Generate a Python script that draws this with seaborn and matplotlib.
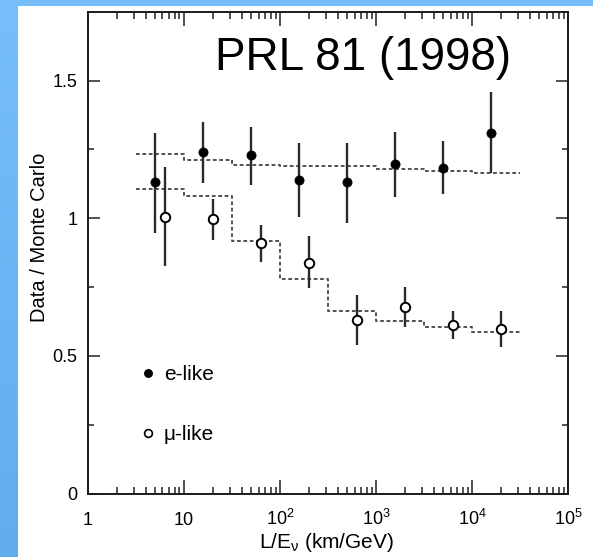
import numpy as np
import pandas as pd
import matplotlib
matplotlib.use("Agg")
import matplotlib.pyplot as plt
from matplotlib.patches import Rectangle
from matplotlib.lines import Line2D
from matplotlib.ticker import FixedLocator, LogLocator, NullFormatter
import seaborn as sns

# ---------------- data ----------------
e_x = [5.0, 15.8, 50.0, 158.0, 500.0, 1580.0, 5000.0, 15800.0]
e_y = [1.131, 1.239, 1.228, 1.139, 1.131, 1.198, 1.184, 1.311]
e_lo = [0.948, 1.127, 1.119, 1.003, 0.984, 1.079, 1.089, 1.166]
e_hi = [1.311, 1.348, 1.333, 1.275, 1.275, 1.315, 1.281, 1.457]

mu_x = [6.3, 20.0, 63.0, 200.0, 630.0, 2000.0, 6300.0, 20000.0]
mu_y = [1.004, 0.997, 0.910, 0.839, 0.631, 0.679, 0.613, 0.599]
mu_lo = [0.827, 0.922, 0.843, 0.746, 0.540, 0.607, 0.561, 0.532]
mu_hi = [1.186, 1.069, 0.976, 0.936, 0.722, 0.752, 0.665, 0.665]

mc_edges = [3.16, 10.0, 31.6, 100.0, 316.0, 1000.0, 3160.0, 10000.0, 31600.0]
mc_e = [1.233, 1.210, 1.195, 1.191, 1.188, 1.178, 1.172, 1.165]
mc_mu = [1.106, 1.080, 0.917, 0.780, 0.665, 0.628, 0.607, 0.588]

x_ticks = [1, 10, 100, 1000, 10000, 100000]
x_ticklabels = ["1", "10", "$10^{2}$", "$10^{3}$", "$10^{4}$", "$10^{5}$"]
y_ticks = [0, 0.5, 1, 1.5]
y_ticklabels = ["0", "0.5", "1", "1.5"]
y_minor = [0.25, 0.75, 1.25]
legend_labels = ["e-like", "\u03bc-like"]
title_text = "PRL 81 (1998)"
x_label = "L/E$_{\u03bd}$ (km/GeV)"
y_label = "Data / Monte Carlo"

# ---------------- style ----------------
sns.set_theme(style="ticks")
plt.rcParams["font.family"] = ["Liberation Sans", "DejaVu Sans"]
plt.rcParams["mathtext.fontset"] = "custom"
plt.rcParams["mathtext.rm"] = "Liberation Sans"
plt.rcParams["mathtext.it"] = "Liberation Sans:italic"
plt.rcParams["mathtext.default"] = "regular"
for k in ("text.color", "axes.labelcolor", "xtick.color", "ytick.color"):
    plt.rcParams[k] = "black"

W, H = 593, 557
fig = plt.figure(figsize=(W / 100, H / 100), dpi=100)
fig.patch.set_facecolor("#76BEFA")

# left blue band with soft vertical gradient
bg = fig.add_axes([0, 0, 17.7 / W, 1], zorder=-5)
grad = np.linspace(0, 1, 256)[:, None]
c_top = np.array([118, 191, 251]) / 255
c_bot = np.array([98, 172, 238]) / 255
img = c_top[None, None, :] * (1 - grad[..., None]) + c_bot[None, None, :] * grad[..., None]
bg.imshow(img, aspect="auto", extent=[0, 1, 0, 1])
bg.set_axis_off()

# white panel (behind the axes)
fig.patches.append(Rectangle((17.7 / W, 0), 1 - 17.7 / W, 1 - 6 / H,
                             transform=fig.transFigure, facecolor="white",
                             edgecolor="none", zorder=-10))

left, right, top, bottom = 87.7, 568.3, 11.7, 493.7
ax = fig.add_axes([left / W, 1 - bottom / H, (right - left) / W, (bottom - top) / H])
ax.set_facecolor("white")
ax.set_xscale("log")

# MC expectation histograms (dotted steps)
df_e = pd.DataFrame({"x": mc_edges, "y": mc_e + [mc_e[-1]]})
df_mu = pd.DataFrame({"x": mc_edges, "y": mc_mu + [mc_mu[-1]]})
for df in (df_e, df_mu):
    sns.lineplot(data=df, x="x", y="y", ax=ax, drawstyle="steps-post",
                 color="#4a4a4a", linewidth=1.35, linestyle=(0, (2.0, 1.4)),
                 estimator=None, sort=False, zorder=2)

# error bars
ax.vlines(e_x, e_lo, e_hi, color="#2a2a2a", linewidth=1.7, zorder=3)
ax.vlines(mu_x, mu_lo, mu_hi, color="#2a2a2a", linewidth=1.7, zorder=3)

# data points
sns.scatterplot(x=e_x, y=e_y, ax=ax, marker="o", s=44, color="black",
                edgecolor="black", linewidth=0.5, zorder=4)
sns.scatterplot(x=mu_x, y=mu_y, ax=ax, marker="o", s=46, facecolor="white",
                edgecolor="black", linewidth=1.4, zorder=4)

ax.set_xlim(1, 1e5)
ax.set_ylim(0, 1.75)

# ticks
ax.set_xticks(x_ticks, x_ticklabels)
ax.xaxis.set_minor_locator(LogLocator(base=10, subs=np.arange(2, 10), numticks=20))
ax.xaxis.set_minor_formatter(NullFormatter())
ax.set_yticks(y_ticks, y_ticklabels)
ax.yaxis.set_minor_locator(FixedLocator(y_minor))

ax.tick_params(axis="both", which="both", direction="in", top=True, right=True,
               color="#222222", width=1.1)
ax.tick_params(axis="x", which="major", length=10, pad=22.5, labelsize=13)
ax.tick_params(axis="x", which="minor", length=4.8)
ax.tick_params(axis="y", which="major", length=8.5, pad=7.5, labelsize=13)
ax.tick_params(axis="y", which="minor", length=4.6)
for lbl in ax.get_xticklabels():
    lbl.set_verticalalignment("baseline")

for sp in ax.spines.values():
    sp.set_linewidth(1.4)
    sp.set_color("#1a1a1a")
    sp.set_visible(True)

# axis labels
ax.set_xlabel(x_label, fontsize=15)
ax.xaxis.set_label_coords((326.7 - left) / (right - left), (bottom - 548) / (bottom - top))
ax.xaxis.label.set_verticalalignment("baseline")
ax.set_ylabel(y_label, fontsize=14.5)
ax.yaxis.set_label_coords((40 - left) / (right - left), (bottom - 237.5) / (bottom - top))
ax.yaxis.label.set_verticalalignment("center")

# legend
handles = [
    Line2D([], [], linestyle="none", marker="o", markersize=5.4,
           markerfacecolor="black", markeredgecolor="black"),
    Line2D([], [], linestyle="none", marker="o", markersize=5.6,
           markerfacecolor="white", markeredgecolor="black", markeredgewidth=1.2),
]
ax.legend(handles, legend_labels, loc="upper left",
          bbox_to_anchor=((142.8 - left) / (right - left), (bottom - 365) / (bottom - top)),
          frameon=False, fontsize=15, handlelength=0.5, handletextpad=0.52,
          labelspacing=1.97, borderpad=0, borderaxespad=0)

# title annotation
fig.text(215 / W, 1 - 70 / H, title_text, fontsize=33, ha="left", va="baseline")

fig.savefig("out.png", dpi=100)
